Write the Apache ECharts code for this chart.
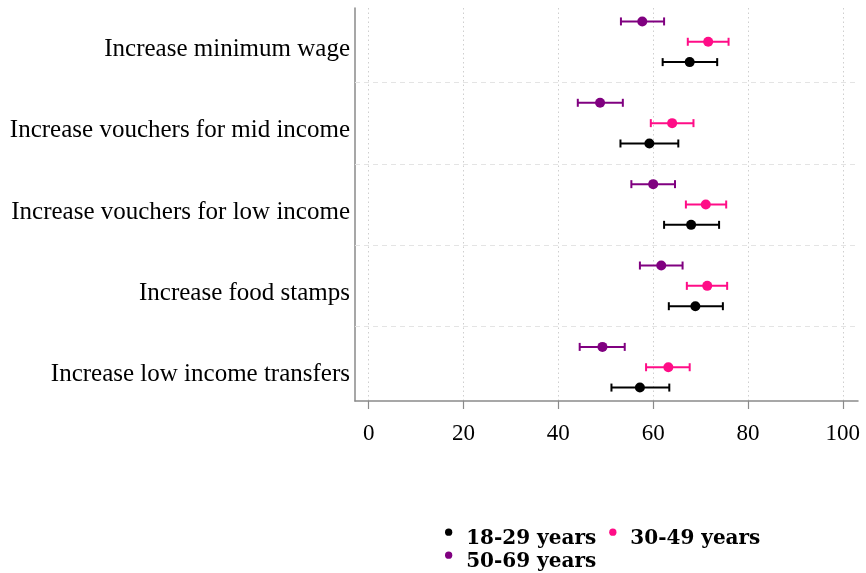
<!DOCTYPE html>
<html>
<head>
<meta charset="utf-8">
<script src="https://cdn.jsdelivr.net/npm/echarts@6/dist/echarts.min.js"></script>
<style>html,body{margin:0;padding:0;background:#fff}#chart{width:866px;height:573px}</style>
</head>
<body>
<div id="chart"></div>
<script>
// Categories, bottom to top
const categories = [
  'Increase low income transfers',
  'Increase food stamps',
  'Increase vouchers for low income',
  'Increase vouchers for mid income',
  'Increase minimum wage'
];
const xTicks = [0, 20, 40, 60, 80, 100];
const groupNames = ['18-29 years', '30-49 years', '50-69 years'];

const mean18 = [57.2, 68.9, 68.0, 59.2, 67.7];
const low18  = [51.2, 63.3, 62.3, 53.1, 62.0];
const high18 = [63.4, 74.7, 73.9, 65.3, 73.5];

const mean30 = [63.2, 71.4, 71.1, 64.0, 71.6];
const low30  = [58.5, 67.1, 66.9, 59.5, 67.3];
const high30 = [67.7, 75.6, 75.4, 68.5, 75.9];

const mean50 = [49.3, 61.7, 60.0, 48.8, 57.7];
const low50  = [44.5, 57.2, 55.4, 44.1, 53.2];
const high50 = [54.0, 66.2, 64.6, 53.6, 62.3];

const groups = [
  {name: groupNames[0], mean: mean18, low: low18, high: high18, color: '#000000', offset: -0.25},
  {name: groupNames[1], mean: mean30, low: low30, high: high30, color: '#ff0d87', offset: 0},
  {name: groupNames[2], mean: mean50, low: low50, high: high50, color: '#800080', offset: 0.25}
];

const separators = [1.5, 2.5, 3.5, 4.5];

const series = [];
groups.forEach(function (g, gi) {
  series.push({
    type: 'custom',
    name: 'ci-' + gi,
    silent: true,
    encode: {x: [0, 1], y: 2},
    data: categories.map(function (c, i) { return [g.low[i], g.high[i], i + 1 + g.offset]; }),
    renderItem: function (params, api) {
      const y = api.value(2);
      const a = api.coord([api.value(0), y]);
      const b = api.coord([api.value(1), y]);
      const h = 4;
      const st = {stroke: g.color, lineWidth: 2};
      return {
        type: 'group',
        children: [
          {type: 'line', shape: {x1: a[0], y1: a[1], x2: b[0], y2: b[1]}, style: st},
          {type: 'line', shape: {x1: a[0], y1: a[1] - h, x2: a[0], y2: a[1] + h}, style: st},
          {type: 'line', shape: {x1: b[0], y1: b[1] - h, x2: b[0], y2: b[1] + h}, style: st}
        ]
      };
    },
    z: 2
  });
});
groups.forEach(function (g, gi) {
  const s = {
    type: 'scatter',
    name: g.name,
    symbol: 'circle',
    symbolSize: 10,
    itemStyle: {color: g.color, opacity: 1},
    data: categories.map(function (c, i) { return [g.mean[i], i + 1 + g.offset]; }),
    z: 3
  };
  if (gi === 0) {
    s.markLine = {
      silent: true,
      symbol: 'none',
      label: {show: false},
      lineStyle: {color: '#e4e4e4', type: [5, 4], width: 1},
      data: separators.map(function (v) { return {yAxis: v}; })
    };
  }
  series.push(s);
});

// circle at the top of a taller box, so the marker sits above the text centre
const legendIcon = 'path://M0,4A4,4,0,1,1,8,4A4,4,0,1,1,0,4ZM4,23.3L4,23.3';
const legendText = {
  color: '#000',
  fontFamily: 'DejaVu Serif',
  fontWeight: 'bold',
  fontSize: 20
};
function makeLegend(names, top) {
  return {
    data: names,
    left: 445,
    top: top,
    padding: 0,
    orient: 'horizontal',
    icon: legendIcon,
    itemWidth: 25,
    itemHeight: 21.3,
    itemGap: 13,
    selectedMode: false,
    textStyle: legendText
  };
}

const chart = echarts.init(document.getElementById('chart'), null, {renderer: 'canvas'});
chart.setOption({
  backgroundColor: '#ffffff',
  animation: false,
  grid: {left: 355, right: 8, top: 8, bottom: 172, containLabel: false},
  xAxis: {
    type: 'value',
    min: -2.89,
    max: 103.2,
    axisLine: {show: true, onZero: false, lineStyle: {color: '#8a8a8a', width: 1.5}},
    axisTick: {show: true, length: 8, customValues: xTicks, lineStyle: {color: '#8a8a8a', width: 1.2}},
    axisLabel: {
      customValues: xTicks,
      margin: 21,
      color: '#000',
      fontFamily: 'Liberation Serif',
      fontSize: 23
    },
    splitLine: {show: true, lineStyle: {color: '#cfcfcf', type: [1.5, 3], width: 1}}
  },
  yAxis: {
    type: 'value',
    min: 0.585,
    max: 5.415,
    axisLine: {show: true, onZero: false, lineStyle: {color: '#8a8a8a', width: 1.5}},
    axisTick: {show: false},
    splitLine: {show: false},
    axisLabel: {
      customValues: [1, 2, 3, 4, 5],
      formatter: function (v) { return categories[Math.round(v) - 1] || ''; },
      margin: 5,
      color: '#000',
      fontFamily: 'Liberation Serif',
      fontSize: 25,
      verticalAlign: 'top',
      lineHeight: 15
    }
  },
  legend: [
    makeLegend([groupNames[0], groupNames[1]], 528.5),
    makeLegend([groupNames[2]], 551.5)
  ],
  series: series
});
</script>
</body>
</html>
